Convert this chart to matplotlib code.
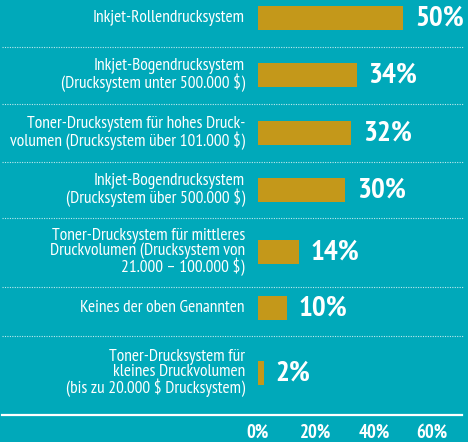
import matplotlib
matplotlib.use("Agg")
import matplotlib.pyplot as plt

categories = [
    "Inkjet-Rollendrucksystem",
    "Inkjet-Bogendrucksystem\n(Drucksystem unter 500.000 $)",
    "Toner-Drucksystem für hohes Druck-\nvolumen (Drucksystem über 101.000 $)",
    "Inkjet-Bogendrucksystem\n(Drucksystem über 500.000 $)",
    "Toner-Drucksystem für mittleres\nDruckvolumen (Drucksystem von\n21.000 – 100.000 $)",
    "Keines der oben Genannten",
    "Toner-Drucksystem für\nkleines Druckvolumen\n(bis zu 20.000 $ Drucksystem)",
]
values = [50, 34, 32, 30, 14, 10, 2]
tick_values = [0, 20, 40, 60]

BG = "#00A9BA"
GOLD = "#C4981A"
W, H = 468, 442
AX_H = 424                      # axes height in px, y data == pixel rows
PX = 2.9                        # px per percent
X0 = 258                        # pixel of 0 %

plt.rcParams["font.family"] = ["PT Sans Narrow", "DejaVu Sans"]

fig = plt.figure(figsize=(W / 100, H / 100), dpi=100, facecolor=BG)
ax = fig.add_axes([0, (H - AX_H) / H, 1, AX_H / H], facecolor=BG)
ax.set_xlim(-X0 / PX, (W - X0) / PX)
ax.set_ylim(AX_H, 0)

# row centres / separators (pixel rows)
row_y = [18, 75, 133, 190, 252, 308, 373]
sep_y = [47, 104, 162, 218, 287, 336]

ax.barh(row_y, values, height=24, color=GOLD, left=0)
for y, v, lab in zip(row_y, values, categories):
    ax.text(-13 / PX, y, lab, ha="right", va="center", color="white",
            fontsize=12.5, linespacing=0.9)
    ax.text(v + 12 / PX, y + 1, f"{v}%", ha="left", va="center", color="white",
            fontsize=21, fontweight="bold")

for y in sep_y:
    ax.axhline(y, xmin=2 / W, xmax=463 / W, color="white", lw=0.8,
               ls=(0, (1, 1.2)), alpha=0.75)
ax.axhline(415, xmin=2 / W, xmax=462 / W, color="white", lw=1.6)

ax.set_xticks(tick_values)
ax.set_xticklabels([f"{t}%" for t in tick_values], fontsize=13.5, fontweight="bold", color="white")
ax.tick_params(axis="x", length=0, pad=0)
ax.set_yticks([])
for s in ax.spines.values():
    s.set_visible(False)

fig.savefig("out.png", dpi=100, facecolor=BG)
